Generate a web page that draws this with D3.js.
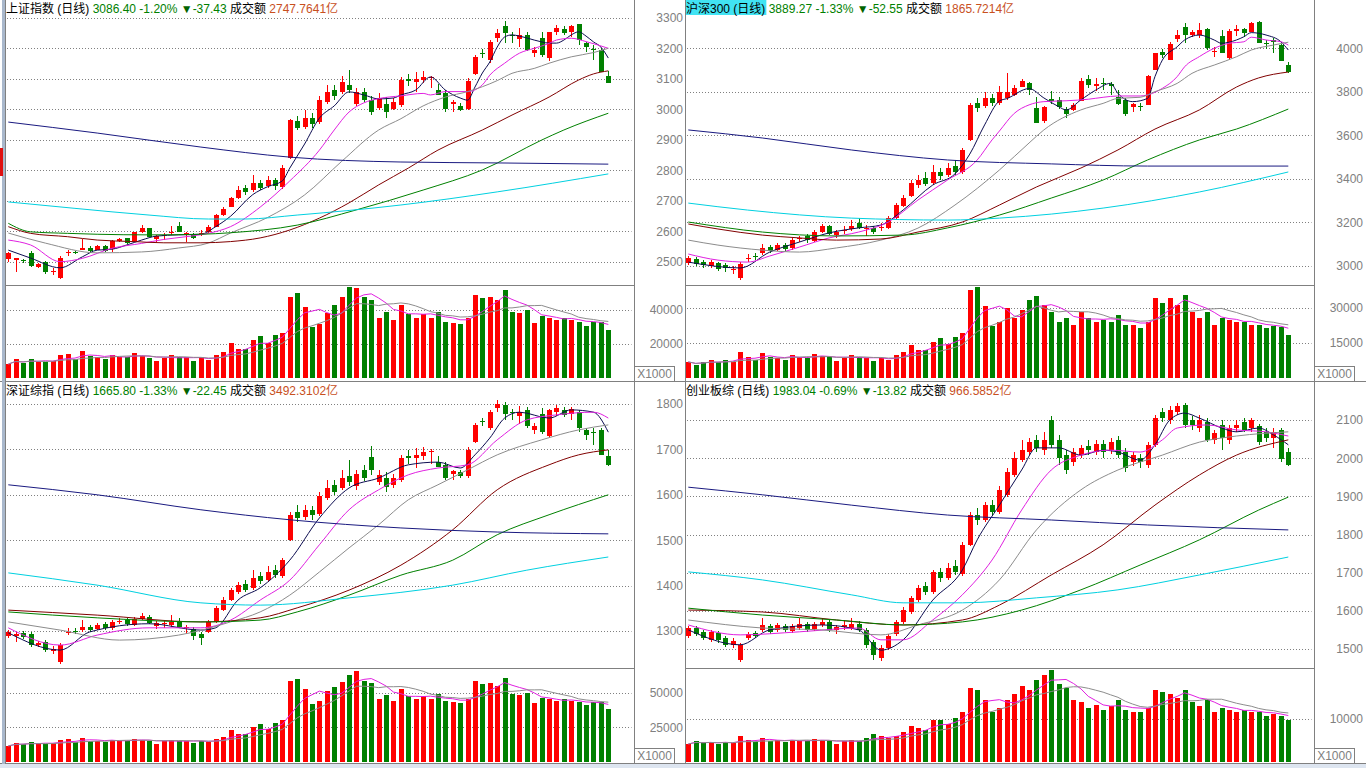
<!DOCTYPE html>
<html><head><meta charset="utf-8">
<script src="https://cdn.jsdelivr.net/npm/d3@7"></script>
<style>
html,body{margin:0;padding:0;background:#fff;overflow:hidden}
svg{display:block}
</style></head><body>
<svg id="c" width="1366" height="768"></svg>
<script>
// ---------------- DATA ----------------
const sessions = d3.range(82); // trading-day index (82 daily candles)

const titles = ["上证指数 (日线)", "沪深300 (日线)", "深证综指 (日线)", "创业板综 (日线)"];
const lastPrices = ["3086.40", "3889.27", "1665.80", "1983.04"];
const pctChanges = ["-1.20%", "-1.33%", "-1.33%", "-0.69%"];
const pointChanges = ["-37.43", "-52.55", "-22.45", "-13.82"];
const turnovers = ["2747.7641亿", "1865.7214亿", "3492.3102亿", "966.5852亿"];

const shPriceTicks = [2500, 2600, 2700, 2800, 2900, 3000, 3100, 3200, 3300];
const hsPriceTicks = [3000, 3200, 3400, 3600, 3800, 4000];
const szPriceTicks = [1300, 1400, 1500, 1600, 1700, 1800];
const cyPriceTicks = [1500, 1600, 1700, 1800, 1900, 2000, 2100];
const shVolTicks = [20000, 40000];
const hsVolTicks = [15000, 30000];
const szVolTicks = [25000, 50000];
const cyVolTicks = [10000];

// [open, close, high, low]
const shCandles = [
[2508,2527,2533,2500],[2506,2511,2512,2467],[2504,2501,2509,2495],[2530,2486,2535,2483],[2484,2492,2496,2479],
[2498,2467,2502,2460],[2465,2469,2479,2456],[2446,2513,2520,2442],[2530,2533,2538,2519],[2531,2529,2535,2524],
[2538,2544,2573,2537],[2546,2535,2550,2532],[2538,2552,2555,2537],[2552,2535,2555,2533],[2541,2569,2571,2533],
[2569,2573,2578,2565],[2577,2560,2579,2558],[2568,2596,2599,2566],[2596,2612,2620,2594],[2610,2582,2610,2581],
[2574,2584,2588,2566],[2584,2587,2595,2571],[2595,2597,2617,2588],[2617,2598,2629,2597],[2592,2594,2597,2564],
[2591,2577,2594,2574],[2591,2594,2604,2584],[2596,2615,2619,2594],[2615,2653,2656,2614],[2653,2673,2679,2650],
[2680,2708,2712,2678],[2709,2735,2748,2706],[2742,2729,2752,2719],[2735,2758,2784,2729],[2758,2742,2768,2735],
[2748,2768,2781,2742],[2768,2748,2775,2735],[2745,2807,2817,2738],[2840,2965,2968,2837],[2961,2939,2978,2932],
[2942,2971,2998,2935],[2971,2952,2988,2939],[2958,3030,3044,2952],[3024,3057,3080,3017],[3063,3044,3080,3030],
[3057,3089,3109,3050],[3080,3063,3129,3053],[3017,3057,3070,3011],[3057,3030,3070,3024],[3030,2991,3044,2981],
[3004,3037,3053,2998],[3016,2992,3041,2970],[3001,3023,3037,2998],[3014,3096,3107,3008],[3098,3094,3115,3076],
[3090,3099,3123,3058],[3096,3105,3127,3085],[3103,3105,3109,3069],[3063,3047,3083,3047],[3052,3001,3063,2992],
[3016,3025,3030,2992],[3012,2998,3020,2994],[3001,3093,3102,2998],[3115,3172,3178,3112],[3184,3181,3197,3167],
[3162,3220,3227,3153],[3233,3249,3262,3220],[3274,3249,3290,3216],[3243,3240,3254,3216],[3230,3244,3266,3205],
[3244,3194,3254,3192],[3184,3194,3203,3170],[3233,3178,3254,3172],[3167,3252,3254,3159],[3252,3266,3276,3244],
[3263,3249,3273,3244],[3254,3274,3276,3238],[3280,3227,3281,3211],[3216,3205,3222,3189],[3198,3195,3211,3162],
[3194,3123.83,3200,3122],[3110,3086.40,3126,3085]
];
const shVolume = [
8200,11200,9000,11200,9600,9600,10200,13500,14100,11200,15900,12900,12200,11200,13500,12500,12200,14700,12900,11900,
10000,11900,13500,12200,12200,10000,12200,10600,13500,15500,20800,17100,17100,22400,24700,20800,25300,26600,47800,50200,
41900,30200,31800,38200,42900,47600,53500,52900,47600,45900,35300,38800,34100,42900,37600,35300,37600,35300,38800,32900,
32400,31800,35300,48800,47100,47600,45900,51800,38800,38200,40000,32400,36500,35300,34100,35300,34100,32900,30600,32900,
32900,28200
];
// moving averages, read as [session, value]
const shMa5 = [[0,2538],[3,2512],[7,2480],[10,2516],[12,2538],[14,2541],[16,2555],[18,2571],[20,2584],[23,2588],[26,2590],[28,2615],[30,2649],[33,2720],[35,2746],[37,2765],[38,2807],[40,2886],[42,2971],[44,3011],[46,3057],[48,3047],[50,3034],[52,3037],[53,3047],[55,3063],[57,3106],[59,3063],[61,3037],[62,3030],[63,3073],[64,3119],[65,3155],[66,3204],[67,3237],[68,3244],[69,3240],[70,3234],[71,3227],[72,3221],[73,3217],[74,3217],[75,3227],[76,3244],[77,3254],[78,3240],[79,3221],[80,3204],[81,3168]];
const shMa10 = [[0,2571],[3,2555],[7,2500],[10,2511],[14,2544],[18,2560],[21,2573],[24,2582],[27,2593],[30,2615],[34,2679],[38,2765],[42,2866],[44,2932],[46,2991],[48,3021],[50,3035],[53,3044],[56,3052],[57,3047],[59,3058],[62,3058],[64,3080],[65,3112],[67,3151],[69,3184],[71,3200],[73,3216],[74,3227],[76,3233],[78,3222],[81,3200]];
const shMa20 = [[0,2594],[5,2561],[12,2529],[18,2532],[23,2545],[27,2561],[30,2594],[35,2645],[40,2719],[45,2829],[50,2932],[53,2969],[56,3011],[59,3040],[62,3058],[64,3074],[66,3094],[68,3118],[71,3134],[73,3151],[76,3172],[79,3186],[81,3200]];
const shMa60 = [[0,2615],[3,2593],[8,2582],[12,2571],[17,2566],[21,2562],[26,2562],[30,2566],[34,2578],[38,2604],[42,2643],[46,2693],[50,2752],[54,2807],[58,2866],[64,2932],[68,2981],[73,3040],[77,3096],[79,3116],[81,3126]];
const shMa120 = [[0,2626],[3,2598],[8,2593],[12,2590],[19,2588],[26,2590],[30,2595],[39,2620],[47,2670],[56,2735],[64,2801],[72,2899],[75,2932],[81,2987]];
const shMa250 = [[0,2958],[12,2922],[26,2876],[38,2843],[53,2827],[66,2824],[81,2820]];
const shMa500 = [[0,2696],[9,2675],[19,2653],[27,2640],[32,2640],[39,2653],[53,2686],[66,2729],[81,2788]];

const hsCandles = [
[3014,3037,3046,3005],[3032,3009,3041,3000],[3018,3005,3028,2991],[3000,3018,3028,2991],[3014,2986,3018,2977],
[3005,2991,3014,2972],[2982,2986,3000,2963],[2945,3009,3018,2936],[3032,3037,3055,3018],[3046,3041,3060,3028],
[3060,3083,3101,3050],[3087,3069,3096,3060],[3073,3096,3106,3069],[3096,3078,3106,3069],[3083,3119,3129,3073],
[3124,3129,3138,3110],[3138,3119,3147,3106],[3115,3156,3165,3110],[3156,3184,3193,3152],[3184,3147,3188,3142],
[3142,3156,3165,3129],[3161,3165,3184,3147],[3170,3184,3211,3161],[3197,3175,3220,3170],[3170,3175,3188,3138],
[3175,3156,3184,3147],[3175,3179,3197,3161],[3175,3220,3230,3170],[3220,3280,3289,3216],[3276,3312,3326,3271],
[3322,3381,3395,3317],[3372,3395,3418,3358],[3404,3377,3432,3367],[3381,3432,3464,3372],[3432,3413,3450,3395],
[3418,3450,3473,3409],[3459,3432,3487,3418],[3432,3533,3542,3423],[3579,3740,3749,3574],[3749,3726,3772,3707],
[3735,3772,3799,3726],[3772,3749,3790,3735],[3749,3799,3827,3740],[3770,3801,3885,3762],[3785,3816,3831,3781],
[3824,3851,3859,3821],[3842,3808,3847,3786],[3724,3658,3775,3655],[3667,3729,3735,3655],[3765,3760,3804,3743],
[3763,3732,3775,3720],[3721,3698,3732,3678],[3717,3740,3749,3712],[3759,3851,3864,3758],[3858,3831,3877,3818],
[3828,3836,3864,3804],[3841,3836,3864,3808],[3836,3827,3847,3786],[3778,3744,3808,3740],[3763,3698,3772,3689],
[3729,3744,3747,3709],[3735,3730,3750,3712],[3740,3874,3877,3740],[3900,3977,3977,3900],[3984,3969,3996,3957],
[3946,4020,4029,3946],[4041,4061,4084,4029],[4099,4061,4118,4023],[4061,4076,4084,4053],[4061,4084,4115,4046],
[4087,4000,4092,3992],[3983,3986,4007,3961],[4057,3980,4084,3977],[3954,4081,4087,3946],[4081,4087,4107,4057],
[4087,4072,4092,4053],[4076,4118,4121,4075],[4122,4026,4127,4023],[4024,4021,4038,3995],[4038,4030,4046,3977],
[4015,3941.82,4029,3940],[3923,3889.27,3938,3888]
];
const hsVolume = [
6900,5600,6900,7700,6900,7700,6900,11100,9000,7700,10700,9000,8600,7700,9900,9000,8600,10300,9400,9000,
7300,8600,9900,9000,8600,7300,8600,7700,9900,11100,14100,12000,12000,15400,17100,14600,17600,19300,37700,39000,
30900,22300,24000,30000,25700,29100,33400,35100,31300,28300,24000,25700,22700,28300,25700,24000,24900,24000,27000,22700,
22700,21400,24000,34300,32100,34300,31300,35600,28300,25700,28300,22700,25700,24900,24000,24000,22700,22700,21400,22300,
21900,18400
];
const hsMa5 = [[0,3018],[7,2991],[11,3064],[15,3110],[19,3152],[23,3175],[26,3188],[29,3257],[33,3372],[36,3423],[38,3514],[40,3648],[42,3758],[43,3769],[46,3815],[48,3772],[50,3732],[51,3717],[53,3763],[55,3808],[57,3839],[58,3793],[60,3755],[62,3770],[63,3870],[64,3946],[66,4007],[67,4038],[69,4061],[71,4038],[72,4023],[73,4028],[75,4053],[76,4072],[78,4061],[80,4030],[81,3992]];
const hsMa10 = [[0,3055],[4,3027],[8,3018],[11,3046],[15,3087],[19,3129],[23,3156],[27,3202],[31,3303],[35,3395],[39,3487],[41,3579],[42,3620],[44,3701],[46,3740],[48,3755],[51,3759],[54,3766],[56,3775],[58,3781],[61,3781],[62,3786],[64,3816],[66,3870],[67,3915],[69,3962],[71,4000],[73,4023],[75,4030],[76,4051],[78,4038],[80,4030],[81,4015]];
const hsMa20 = [[0,3119],[4,3096],[10,3073],[15,3064],[20,3083],[26,3119],[31,3174],[36,3280],[42,3441],[46,3565],[48,3625],[53,3717],[56,3747],[58,3770],[61,3775],[63,3801],[66,3839],[68,3885],[71,3923],[74,3961],[76,3992],[79,4015],[81,4028]];
const hsMa60 = [[0,3193],[4,3170],[10,3142],[15,3129],[20,3119],[26,3124],[31,3156],[37,3202],[42,3280],[47,3363],[53,3450],[58,3533],[63,3629],[69,3717],[74,3822],[77,3864],[81,3891]];
const hsMa120 = [[0,3202],[10,3156],[20,3138],[29,3142],[35,3175],[42,3234],[49,3312],[56,3395],[62,3487],[69,3579],[74,3629],[81,3721]];
const hsMa250 = [[0,3625],[10,3588],[22,3533],[35,3487],[49,3469],[62,3459],[81,3459]];
const hsMa500 = [[0,3289],[8,3257],[22,3220],[35,3211],[42,3220],[56,3266],[69,3340],[81,3432]];

const szCandles = [
[1289,1298,1302,1285],[1289,1293,1298,1276],[1296,1287,1300,1282],[1293,1269,1298,1265],[1269,1274,1278,1265],
[1276,1258,1280,1254],[1256,1260,1267,1249],[1232,1269,1274,1227],[1296,1298,1307,1291],[1300,1298,1307,1293],
[1302,1309,1324,1298],[1309,1302,1313,1298],[1305,1313,1318,1302],[1316,1307,1320,1302],[1307,1320,1324,1302],
[1320,1322,1329,1316],[1324,1316,1329,1311],[1313,1327,1331,1311],[1327,1333,1340,1324],[1331,1318,1335,1316],
[1311,1318,1322,1305],[1316,1318,1324,1307],[1313,1320,1335,1309],[1322,1309,1329,1307],[1307,1309,1313,1293],
[1305,1289,1309,1280],[1293,1285,1298,1269],[1298,1320,1324,1296],[1320,1351,1355,1318],[1346,1368,1375,1344],
[1368,1390,1395,1366],[1386,1401,1408,1382],[1404,1390,1412,1386],[1395,1417,1434,1390],[1421,1410,1430,1404],
[1412,1430,1443,1408],[1434,1423,1445,1417],[1421,1456,1461,1417],[1501,1556,1562,1498],[1562,1549,1578,1540],
[1551,1567,1578,1545],[1567,1556,1575,1545],[1558,1597,1606,1553],[1593,1615,1633,1589],[1622,1606,1633,1600],
[1615,1637,1655,1611],[1642,1628,1677,1619],[1619,1646,1655,1611],[1655,1637,1666,1630],[1683,1655,1708,1644],
[1628,1644,1655,1622],[1637,1617,1650,1606],[1622,1637,1646,1615],[1633,1681,1688,1628],[1686,1681,1699,1668],
[1681,1688,1703,1659],[1686,1694,1705,1677],[1694,1697,1701,1668],[1672,1661,1686,1661],[1666,1637,1672,1633],
[1646,1653,1655,1633],[1650,1642,1655,1637],[1642,1699,1705,1637],[1716,1754,1758,1714],[1763,1760,1769,1752],
[1747,1782,1787,1743],[1791,1800,1809,1782],[1798,1778,1805,1765],[1782,1780,1789,1765],[1774,1782,1796,1756],
[1787,1752,1793,1747],[1743,1752,1758,1734],[1778,1738,1791,1734],[1730,1787,1789,1725],[1782,1791,1798,1774],
[1787,1776,1793,1771],[1778,1789,1793,1765],[1782,1747,1787,1738],[1743,1732,1747,1721],[1738,1736,1747,1710],
[1743,1688.25,1747,1687],[1686,1665.80,1699,1664]
];
const szVolume = [
11600,13800,13100,14500,13100,13100,13800,16000,16700,14500,17400,15300,15300,14500,16000,15300,15300,16700,16000,15300,
13100,15300,16000,15300,15300,13800,15300,14500,16700,18200,23300,20300,20300,25400,27600,24000,28300,30500,58100,59600,
52300,41400,43600,50900,53800,57400,62500,65400,58100,56700,45100,48000,43600,52300,47200,45100,47200,45100,48700,43600,
42900,42100,45100,58100,56000,56700,54500,60300,48700,48000,49400,42100,45800,45100,43600,45100,43600,42900,40700,42900,
42900,37800
];
const szMa5 = [[0,1296],[7,1258],[11,1298],[19,1316],[26,1302],[28,1307],[31,1368],[34,1395],[38,1456],[42,1549],[46,1615],[50,1637],[54,1666],[58,1672],[61,1659],[63,1688],[65,1725],[67,1769],[69,1782],[73,1769],[76,1787],[79,1782],[81,1738]];
const szMa10 = [[0,1307],[7,1269],[12,1291],[19,1307],[26,1307],[30,1324],[34,1368],[38,1412],[42,1490],[46,1567],[50,1611],[54,1644],[58,1659],[62,1666],[66,1721],[70,1765],[74,1776],[79,1782],[81,1769]];
const szMa20 = [[0,1320],[7,1302],[15,1280],[23,1291],[30,1320],[34,1342],[38,1379],[42,1430],[46,1483],[50,1534],[54,1589],[58,1622],[62,1655],[66,1688],[72,1721],[77,1743],[81,1754]];
const szMa60 = [[0,1346],[12,1335],[26,1320],[34,1329],[39,1351],[46,1390],[53,1445],[60,1523],[66,1611],[73,1666],[77,1688],[81,1699]];
const szMa120 = [[0,1342],[12,1329],[26,1320],[34,1324],[39,1342],[46,1379],[53,1423],[60,1456],[66,1512],[73,1556],[81,1600]];
const szMa250 = [[0,1622],[12,1600],[26,1567],[38,1545],[53,1527],[66,1518],[81,1514]];
const szMa500 = [[0,1428],[12,1401],[26,1362],[34,1357],[46,1373],[60,1401],[70,1434],[81,1463]];

const cyCandles = [
[1534,1555,1560,1529],[1555,1539,1560,1534],[1545,1529,1550,1524],[1524,1545,1550,1518],[1542,1524,1547,1516],
[1529,1511,1534,1505],[1511,1521,1529,1503],[1471,1511,1516,1466],[1529,1539,1545,1524],[1542,1534,1547,1529],
[1550,1563,1581,1545],[1560,1545,1566,1539],[1550,1563,1568,1545],[1560,1550,1566,1545],[1547,1560,1566,1542],
[1555,1566,1581,1550],[1566,1550,1571,1545],[1552,1566,1571,1547],[1563,1571,1581,1558],[1571,1550,1576,1545],
[1550,1558,1563,1539],[1558,1563,1576,1550],[1555,1566,1581,1550],[1566,1550,1573,1545],[1550,1511,1555,1503],
[1518,1484,1524,1471],[1476,1503,1511,1469],[1503,1534,1539,1497],[1539,1571,1576,1534],[1571,1602,1610,1565],
[1597,1634,1639,1592],[1628,1660,1668,1623],[1665,1650,1676,1642],[1650,1702,1707,1644],[1702,1686,1712,1676],
[1686,1712,1725,1681],[1718,1702,1733,1694],[1697,1773,1780,1691],[1773,1851,1859,1770],[1851,1838,1869,1825],
[1838,1877,1885,1833],[1877,1859,1890,1851],[1859,1917,1927,1854],[1904,1964,1974,1898],[1956,2000,2016,1951],
[1996,2021,2048,1990],[2016,2042,2053,2008],[2048,2027,2061,2016],[2021,2048,2069,2008],[2100,2035,2111,2027],
[2048,2000,2061,1982],[2008,1969,2021,1959],[1990,2016,2027,1980],[2008,2027,2035,2000],[2032,2021,2048,2008],
[2016,2037,2048,2008],[2037,2016,2048,2000],[2021,2042,2053,2011],[2048,2008,2058,2000],[2016,1974,2027,1964],
[1990,2008,2016,1980],[2000,1990,2011,1974],[1982,2034,2042,1974],[2034,2105,2113,2029],[2121,2105,2131,2095],
[2100,2126,2137,2090],[2121,2137,2145,2113],[2139,2087,2145,2079],[2100,2087,2111,2074],[2079,2100,2113,2069],
[2095,2048,2105,2042],[2048,2066,2074,2037],[2087,2053,2100,2021],[2048,2079,2087,2037],[2079,2087,2100,2069],
[2095,2074,2105,2069],[2079,2100,2105,2069],[2084,2042,2090,2034],[2069,2053,2079,2042],[2053,2069,2079,2027],
[2074,1996.86,2079,1990],[2016,1983.04,2026,1980]
];
const cyVolume = [
4200,4900,4400,4700,4200,4700,4400,6000,5100,4700,5600,4900,5100,4700,5100,4900,4900,5300,5100,4900,
4200,4900,5100,4900,5600,6500,6000,5600,6000,7000,8400,7900,7400,9800,9800,8800,10200,11600,17200,16700,
14400,11600,12600,14400,15800,17700,16700,19100,20200,21400,18100,17200,14400,14000,12600,13300,12100,13000,14400,12100,
11600,11600,12600,16700,16300,15800,14900,16700,14000,13000,14400,11600,12600,12100,11600,12100,11600,11600,10700,11200,
10700,9800
];
const cyMa5 = [[0,1550],[7,1511],[11,1550],[18,1563],[23,1550],[26,1497],[29,1524],[33,1628],[37,1707],[39,1786],[42,1877],[45,1969],[47,2027],[50,2027],[53,2008],[56,2021],[58,2016],[61,1995],[63,2035],[65,2100],[67,2118],[69,2105],[72,2079],[74,2069],[77,2079],[79,2061],[81,2035]];
const cyMa10 = [[0,1563],[7,1537],[15,1545],[23,1555],[26,1524],[29,1524],[33,1576],[37,1642],[41,1733],[45,1864],[49,1969],[53,2008],[57,2021],[61,2016],[64,2048],[66,2079],[70,2087],[74,2074],[78,2069],[81,2058]];
const cyMa20 = [[0,1576],[10,1555],[18,1550],[26,1537],[31,1563],[37,1602],[42,1681],[47,1812],[53,1917],[58,1969],[64,2008],[69,2042],[74,2058],[81,2069]];
const cyMa60 = [[0,1602],[10,1597],[20,1576],[29,1563],[37,1576],[42,1615],[49,1694],[56,1773],[63,1877],[69,1956],[74,2008],[81,2048]];
const cyMa120 = [[0,1607],[10,1589],[20,1576],[29,1563],[37,1571],[45,1602],[53,1655],[61,1720],[69,1786],[77,1864],[81,1898]];
const cyMa250 = [[0,1924],[10,1904],[22,1877],[35,1851],[49,1838],[62,1825],[81,1812]];
const cyMa500 = [[0,1702],[10,1681],[22,1642],[29,1621],[37,1621],[47,1634],[58,1655],[69,1694],[81,1741]];

// ---------------- STYLE / LAYOUT ----------------
const FONT = '"Liberation Sans","Noto Sans CJK SC",sans-serif';
const GRAY = '#808080';
const UP = '#ff0000', DOWN = '#008000';
const maColors = ['#0c0c50', '#e020e0', '#8c8c8c', '#800000', '#008000', '#1a1a80', '#00d0e0'];
const volMaColors = ['#e020e0', '#8c8c8c'];

const panels = [
  {i:0, candles:shCandles, volume:shVolume, mas:[shMa5,shMa10,shMa20,shMa60,shMa120,shMa250,shMa500],
   pTicks:shPriceTicks, vTicks:shVolTicks, pDom:[2500,3200], pRng:[261.7,48.3], vDom:[0,40000], vRng:[378,310],
   left:6, axisX:634.5, labelX:683, xr:[8.3,608.3], top:0, div:285.5, bottom:381.5, hl:false},
  {i:1, candles:hsCandles, volume:hsVolume, mas:[hsMa5,hsMa10,hsMa20,hsMa60,hsMa120,hsMa250,hsMa500],
   pTicks:hsPriceTicks, vTicks:hsVolTicks, pDom:[3000,4000], pRng:[266,48.3], vDom:[0,30000], vRng:[378,308],
   left:686, axisX:1314.5, labelX:1363, xr:[688.3,1288.3], top:0, div:285.5, bottom:381.5, hl:true},
  {i:2, candles:szCandles, volume:szVolume, mas:[szMa5,szMa10,szMa20,szMa60,szMa120,szMa250,szMa500],
   pTicks:szPriceTicks, vTicks:szVolTicks, pDom:[1300,1800], pRng:[631,404], vDom:[0,50000], vRng:[762,692.5],
   left:6, axisX:634.5, labelX:683, xr:[8.3,608.3], top:381.5, div:668.5, bottom:763.5, hl:false},
  {i:3, candles:cyCandles, volume:cyVolume, mas:[cyMa5,cyMa10,cyMa20,cyMa60,cyMa120,cyMa250,cyMa500],
   pTicks:cyPriceTicks, vTicks:cyVolTicks, pDom:[1500,2100], pRng:[649,420], vDom:[0,10000], vRng:[762,719],
   left:686, axisX:1314.5, labelX:1363, xr:[688.3,1288.3], top:381.5, div:668.5, bottom:763.5, hl:false}
];

const svg = d3.select('#c');
svg.append('rect').attr('width',1366).attr('height',768).attr('fill','#fff');
const defs = svg.append('defs');

function volMa(vals, n) {
  return vals.map((v, i) => [i, d3.mean(vals.slice(Math.max(0, i - n + 1), i + 1))]);
}

panels.forEach(p => {
  const xs = d3.scaleLinear().domain([0, sessions.length - 1]).range(p.xr);
  const ys = d3.scaleLinear().domain(p.pDom).range(p.pRng);
  const yv = d3.scaleLinear().domain(p.vDom).range(p.vRng);
  const cx = i => Math.round(xs(i));
  const gridRight = p.axisX - 3;

  defs.append('clipPath').attr('id', 'pc' + p.i).append('rect')
    .attr('x', p.left).attr('y', p.top + 14).attr('width', p.axisX - p.left - 1).attr('height', p.div - p.top - 14.5);
  defs.append('clipPath').attr('id', 'vc' + p.i).append('rect')
    .attr('x', p.left).attr('y', p.div + 0.5).attr('width', p.axisX - p.left - 1).attr('height', p.bottom - p.div - 1);

  // grid
  const grid = svg.append('g');
  grid.selectAll('line.pg').data(p.pTicks).join('line').attr('class','pg')
    .attr('x1', p.left + 1).attr('x2', gridRight)
    .attr('y1', d => Math.round(ys(d)) + 0.5).attr('y2', d => Math.round(ys(d)) + 0.5)
    .attr('stroke', GRAY).attr('stroke-dasharray', '1,2');
  grid.selectAll('line.vg').data(p.vTicks).join('line').attr('class','vg')
    .attr('x1', p.left + 1).attr('x2', gridRight)
    .attr('y1', d => Math.round(yv(d)) + 0.5).attr('y2', d => Math.round(yv(d)) + 0.5)
    .attr('stroke', GRAY).attr('stroke-dasharray', '1,2');

  // axes labels
  const pa = svg.append('g').attr('transform', `translate(${p.labelX},0)`)
    .call(d3.axisLeft(ys).tickValues(p.pTicks).tickSize(0).tickPadding(0).tickFormat(d3.format('d')));
  const va = svg.append('g').attr('transform', `translate(${p.labelX},0)`)
    .call(d3.axisLeft(yv).tickValues(p.vTicks).tickSize(0).tickPadding(0).tickFormat(d3.format('d')));
  [pa, va].forEach(a => {
    a.select('.domain').remove();
    a.attr('font-family', FONT).attr('font-size', 12);
    a.selectAll('text').attr('fill', GRAY);
  });

  // candles
  const cg = svg.append('g').attr('clip-path', `url(#pc${p.i})`);
  const col = d => d[1] >= d[0] ? UP : DOWN;
  cg.selectAll('rect.wick').data(p.candles).join('rect').attr('class','wick')
    .attr('x', (d, i) => cx(i)).attr('width', 1)
    .attr('y', d => Math.round(ys(d[2])))
    .attr('height', d => Math.max(1, Math.round(ys(d[3])) - Math.round(ys(d[2]))))
    .attr('fill', col);
  cg.selectAll('rect.body').data(p.candles).join('rect').attr('class','body')
    .attr('x', (d, i) => cx(i) - 2).attr('width', 5)
    .attr('y', d => Math.round(ys(Math.max(d[0], d[1]))))
    .attr('height', d => Math.max(1, Math.round(ys(Math.min(d[0], d[1]))) - Math.round(ys(Math.max(d[0], d[1])))))
    .attr('fill', col);

  // moving averages
  const line = d3.line().x(d => xs(d[0])).y(d => ys(d[1])).curve(d3.curveMonotoneX);
  cg.selectAll('path.ma').data(p.mas).join('path').attr('class','ma')
    .attr('d', line).attr('fill', 'none').attr('stroke', (d, k) => maColors[k]).attr('stroke-width', 1);

  // volume
  const vg = svg.append('g').attr('clip-path', `url(#vc${p.i})`);
  const base = Math.round(yv(0));
  vg.selectAll('rect.vol').data(p.volume).join('rect').attr('class','vol')
    .attr('x', (d, i) => cx(i) - 2).attr('width', 5)
    .attr('y', d => Math.round(yv(d))).attr('height', d => base - Math.round(yv(d)))
    .attr('fill', (d, i) => col(p.candles[i]));
  const vline = d3.line().x(d => xs(d[0])).y(d => yv(d[1]));
  vg.selectAll('path.vma').data([volMa(p.volume, 5), volMa(p.volume, 10)]).join('path').attr('class','vma')
    .attr('d', vline).attr('fill', 'none').attr('stroke', (d, k) => volMaColors[k]).attr('stroke-width', 1);

  // frame lines
  svg.append('line').attr('x1', p.left).attr('x2', p.axisX).attr('y1', p.div).attr('y2', p.div).attr('stroke', GRAY);

  // X1000 box
  svg.append('rect').attr('x', p.axisX).attr('y', p.bottom - 15).attr('width', 40).attr('height', 15)
    .attr('fill', '#fff').attr('stroke', GRAY);
  svg.append('text').attr('x', p.axisX + 20).attr('y', p.bottom - 3.5).attr('text-anchor', 'middle')
    .attr('font-family', FONT).attr('font-size', 12).attr('fill', GRAY).text('X1000');

  // header
  const ht = svg.append('text').attr('x', p.left).attr('y', p.top + 13)
    .attr('font-family', FONT).attr('font-size', 12);
  const t1 = ht.append('tspan').attr('fill', '#000').text(titles[p.i]);
  ht.append('tspan').attr('fill', '#008000').text(' ' + lastPrices[p.i] + ' ' + pctChanges[p.i] + ' ');
  ht.append('tspan').attr('fill', '#006400').text('▼');
  ht.append('tspan').attr('fill', '#008000').text(pointChanges[p.i] + ' ');
  ht.append('tspan').attr('fill', '#000').text('成交额 ');
  ht.append('tspan').attr('fill', '#c8501e').text(turnovers[p.i]);
  if (p.hl) {
    const w = t1.node().getComputedTextLength();
    svg.insert('rect', () => ht.node()).attr('x', p.left).attr('y', p.top).attr('width', w + 1).attr('height', 15)
      .attr('fill', '#41e3f3');
  }
});

// global frame lines
const frame = svg.append('g').attr('stroke', GRAY).attr('shape-rendering', 'crispEdges');
[634.5, 685.5, 1314.5].forEach(x => frame.append('line').attr('x1', x).attr('x2', x).attr('y1', 0).attr('y2', 764));
frame.append('line').attr('x1', 0).attr('x2', 1366).attr('y1', 381.5).attr('y2', 381.5);
frame.append('line').attr('x1', 0).attr('x2', 1366).attr('y1', 763.5).attr('y2', 763.5);
frame.append('line').attr('x1', 5.5).attr('x2', 5.5).attr('y1', 0).attr('y2', 764);
svg.append('rect').attr('x', 2).attr('y', 0).attr('width', 3).attr('height', 764).attr('fill', '#a9b8cc');
svg.append('rect').attr('x', 0).attr('y', 148).attr('width', 3).attr('height', 28).attr('fill', '#e01010');
svg.append('rect').attr('x', 0).attr('y', 764).attr('width', 1366).attr('height', 4).attr('fill', '#dde5f0');
</script>
</body></html>
